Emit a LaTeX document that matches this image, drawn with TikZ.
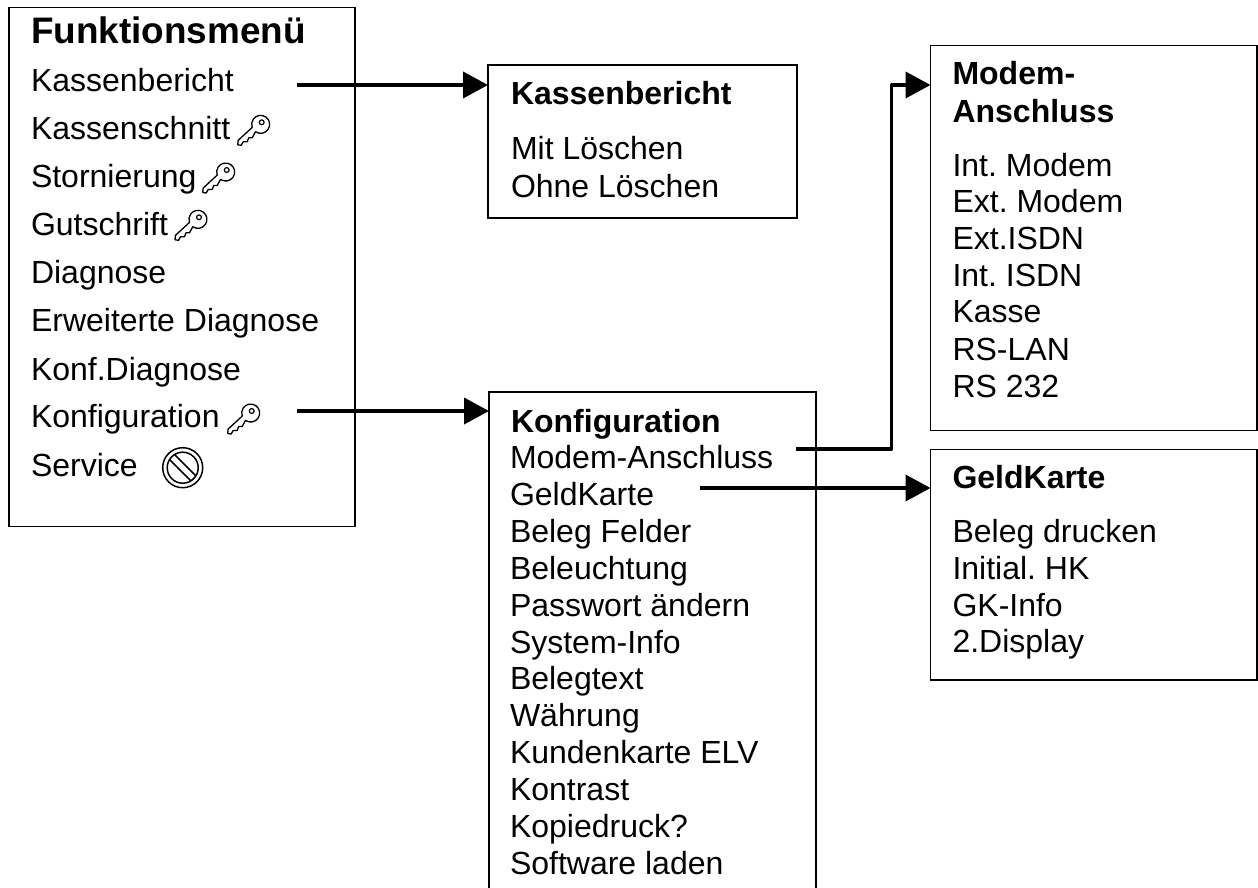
\documentclass[tikz,border=0pt]{standalone}
\usepackage{fontspec}
\setmainfont{Liberation Sans}
\usetikzlibrary{arrows.meta}
\frenchspacing
\tikzset{
  x=1pt,y=1pt,
  menubox/.style={draw=black,line width=1.5pt,fill=white,anchor=north west,inner sep=0pt,outer sep=0pt},
  item/.style={anchor=base west,inner sep=0pt,outer sep=0pt,text=black,font=\fontsize{32}{37}\selectfont\frenchspacing},
  head/.style={item,font=\fontsize{32}{37}\selectfont\bfseries},
  bighead/.style={item,font=\fontsize{36.9}{42}\selectfont\bfseries},
  link/.style={draw=black,line width=3.8pt,-{Triangle[length=25pt,width=26pt]}},
  keyicon/.pic={
    \draw[line width=1.3pt,line join=round]
      (-6.2,-9.4) arc[start angle=235,end angle=560,radius=9pt]
      -- (-23.5,-18) -- (-24,-22.5) -- (-20.5,-23) -- (-18.5,-19.5) -- (-14.5,-19.5)
      -- (-13,-15.5) -- (-9.5,-15.5) -- cycle;
    \draw[line width=1.2pt] (0,0) circle[radius=2.4pt];
  },
  nosign/.pic={
    \draw[line width=1.5pt] (0,0) circle[radius=20pt];
    \draw[line width=1.5pt] (0,0) circle[radius=15.5pt];
    \draw[line width=1.5pt] (-13.15,8.2) -- (8.2,-13.15);
    \draw[line width=1.5pt] (-8.2,13.15) -- (13.15,-8.2);
  }
}
\begin{document}
\begin{tikzpicture}
\useasboundingbox (0,0) rectangle (1258,-888);

% boxes
\node[menubox,minimum width=346pt,minimum height=519pt] (fm) at (9,-7.5) {};
\node[menubox,minimum width=309pt,minimum height=153pt] (kb) at (488,-65) {};
\node[anchor=north west,inner sep=0pt,outer sep=0pt,minimum width=327pt,minimum height=496pt] (ko) at (489,-392) {};
\draw[line width=1.5pt] (ko.south west) |- (ko.north east) -- (ko.south east);
\node[menubox,minimum width=326.5pt,minimum height=385pt] (ma) at (930.5,-45.7) {};
\node[menubox,minimum width=326.5pt,minimum height=230.7pt] (gk) at (930.5,-449.3) {};

% Funktionsmenü
\node[bighead] (t1) at (31,-43.5) {Funktionsmenü};
\node[item] (f1) at (31,-92) {Kassenbericht};
\node[item] (f2) at (31,-139.5) {Kassenschnitt};
\node[item] (f3) at (31,-187.7) {Stornierung};
\node[item] (f4) at (31,-235) {Gutschrift};
\node[item] (f5) at (31,-283) {Diagnose};
\node[item] (f6) at (31,-331.7) {Erweiterte Diagnose};
\node[item] (f7) at (31,-380) {Konf.Diagnose};
\node[item] (f8) at (31,-427.7) {Konfiguration};
\node[item] (f9) at (31,-476) {Service};

\pic at (261.7,-122.3) {keyicon};
\pic at (226.7,-170) {keyicon};
\pic at (199,-217.3) {keyicon};
\pic at (251.7,-411) {keyicon};
\pic at (182.7,-467.7) {nosign};

% Kassenbericht
\node[head] (t2) at (511,-105) {Kassenbericht};
\node[item] (k1) at (511,-160) {Mit Löschen};
\node[item] (k2) at (511,-197) {Ohne Löschen};

% Konfiguration
\node[head] (t3) at (511,-432) {Konfiguration};
\node[item] (c0) at (510,-468) {Modem-Anschluss};
\node[item] (c1) at (510,-505) {GeldKarte};
\node[item] (c2) at (510,-542) {Beleg Felder};
\node[item] (c3) at (510,-579) {Beleuchtung};
\node[item] (c4) at (510,-616) {Passwort ändern};
\node[item] (c5) at (510,-653) {System-Info};
\node[item] (c6) at (510,-689.5) {Belegtext};
\node[item] (c7) at (510,-726.5) {Währung};
\node[item] (c8) at (510,-763.5) {Kundenkarte ELV};
\node[item] (c9) at (510,-800) {Kontrast};
\node[item] (c10) at (510,-837) {Kopiedruck?};
\node[item] (c11) at (510,-874) {Software laden};

% Modem-Anschluss
\node[head] (t4) at (952.5,-85) {Modem-};
\node[head] (t5) at (952.5,-122.6) {Anschluss};
\node[item] (m1) at (952.5,-176) {Int. Modem};
\node[item] (m2) at (952.5,-212.7) {Ext. Modem};
\node[item] (m3) at (952.5,-249) {Ext.ISDN};
\node[item] (m4) at (952.5,-286.7) {Int. ISDN};
\node[item] (m5) at (952.5,-322) {Kasse};
\node[item] (m6) at (952.5,-360.7) {RS-LAN};
\node[item] (m7) at (952.5,-397.7) {RS 232};

% GeldKarte
\node[head] (t6) at (952.5,-488) {GeldKarte};
\node[item] (g1) at (952.5,-542.7) {Beleg drucken};
\node[item] (g2) at (952.5,-579) {Initial. HK};
\node[item] (g3) at (952.5,-616) {GK-Info};
\node[item] (g4) at (952.5,-652) {2.Display};

% connectors
\coordinate (s1) at (297,-85);
\coordinate (s2) at (297,-411);
\coordinate (s3) at (796,-449);
\coordinate (s4) at (700,-488);
\coordinate (bend) at (891.5,-85);
\draw[link] (s1) -- (s1 -| kb.west);
\draw[link] (s2) -- (s2 -| ko.west);
\draw[link,line join=round] (s3) -| (bend) -- (bend -| ma.west);
\draw[link] (s4) -- (s4 -| gk.west);
\end{tikzpicture}
\end{document}
